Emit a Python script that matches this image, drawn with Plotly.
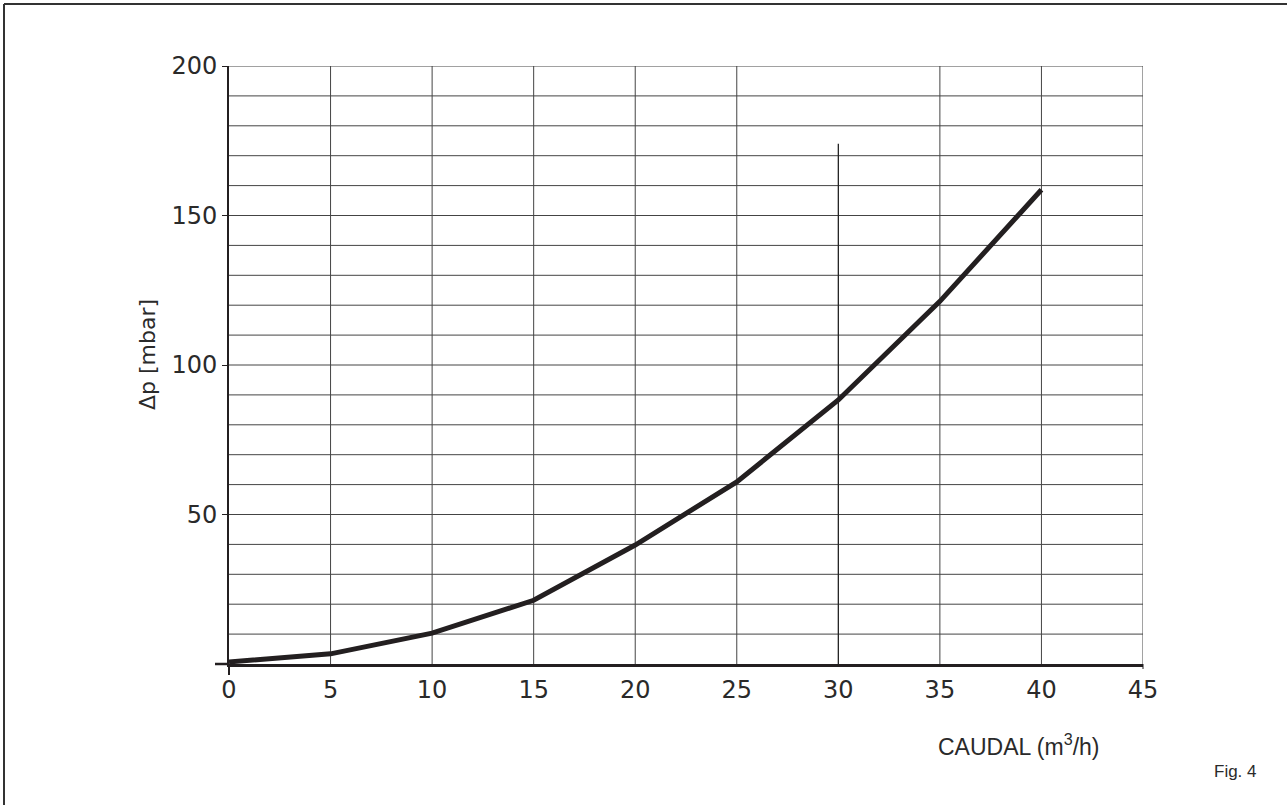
import plotly.graph_objects as go

# Data
caudal = [0, 5, 10, 15, 20, 25, 30, 35, 40]
delta_p = [0.7, 3.4, 10.3, 21.3, 39.8, 60.9, 88.3, 121.3, 158.6]

x_ticks = [0, 5, 10, 15, 20, 25, 30, 35, 40, 45]
y_ticks = [50, 100, 150, 200]
y_grid = [10, 20, 30, 40, 50, 60, 70, 80, 90, 100, 110, 120, 130, 140, 150, 160, 170, 180, 190, 200]
x_grid = [5, 10, 15, 20, 25, 30, 35, 40, 45]
x_grid_top = [200, 200, 200, 200, 200, 174, 200, 200, 200]

INK = "#231f20"
GRID = "#444444"
TICKFONT = dict(family="DejaVu Sans", size=24, color="#2a2a2a")

fig = go.Figure()

fig.add_trace(go.Scatter(
    x=caudal, y=delta_p, mode="lines",
    line=dict(color=INK, width=5),
    hoverinfo="x+y", showlegend=False,
))

shapes = []
# horizontal grid lines
for yv in y_grid:
    shapes.append(dict(type="line", xref="x", yref="y", x0=0, x1=45, y0=yv, y1=yv,
                       line=dict(color=GRID, width=1), layer="below"))
# vertical grid lines
for xv, top in zip(x_grid, x_grid_top):
    shapes.append(dict(type="line", xref="x", yref="y", x0=xv, x1=xv, y0=0, y1=top,
                       line=dict(color=GRID if xv != 30 else "#222", width=1 if xv != 30 else 1.3),
                       layer="below"))

W, H = 1287, 805
L, T = 229, 66
pw, ph = 914, 598
R, B = W - L - pw, H - T - ph


def px(x):
    return (x - L) / pw


def py(y):
    return (T + ph - y) / ph


# x-axis line extension to the left, y-axis extension downward
shapes.append(dict(type="line", xref="paper", yref="paper", x0=px(215), x1=px(229), y0=0, y1=0,
                   line=dict(color=INK, width=2.5)))
shapes.append(dict(type="line", xref="paper", yref="paper", x0=0, x1=0, y0=py(675), y1=0,
                   line=dict(color=INK, width=2)))
shapes.append(dict(type="line", xref="paper", yref="paper", x0=1, x1=1, y0=py(669), y1=0,
                   line=dict(color=INK, width=1)))
# outer frame (left and top edges)
shapes.append(dict(type="line", xref="paper", yref="paper", x0=px(4), x1=px(4), y0=py(4), y1=py(806),
                   line=dict(color="#333", width=2)))
shapes.append(dict(type="line", xref="paper", yref="paper", x0=px(4), x1=px(1288), y0=py(4), y1=py(4),
                   line=dict(color="#333", width=2)))

fig.update_layout(
    width=W, height=H,
    margin=dict(l=L, r=R, t=T, b=B),
    paper_bgcolor="white", plot_bgcolor="white",
    shapes=shapes,
    showlegend=False,
    xaxis=dict(
        range=[0, 45], tickvals=x_ticks, ticktext=[str(v) for v in x_ticks],
        showgrid=False, zeroline=False, showline=True, linecolor=INK, linewidth=2.5,
        ticks="", tickfont=TICKFONT, ticklabelstandoff=2,
    ),
    yaxis=dict(
        range=[0, 200], tickvals=y_ticks, ticktext=[str(v) for v in y_ticks],
        showgrid=False, zeroline=False, showline=True, linecolor=INK, linewidth=2,
        ticks="outside", ticklen=5, tickcolor=INK, tickwidth=1,
        tickfont=TICKFONT, ticklabelstandoff=0,
    ),
    annotations=[
        dict(text="\u0394p [mbar]", xref="paper", yref="paper", x=px(147), y=py(355),
             textangle=-90, showarrow=False, xanchor="center", yanchor="middle",
             font=dict(family="DejaVu Sans", size=22, color="#2a2a2a")),
        dict(text="CAUDAL (m<sup>3</sup>/h)", xref="paper", yref="paper", x=px(1018), y=py(745),
             showarrow=False, xanchor="center", yanchor="middle",
             font=dict(family="Liberation Sans", size=23, color="#2a2a2a")),
        dict(text="Fig. 4", xref="paper", yref="paper", x=px(1235), y=py(772),
             showarrow=False, xanchor="center", yanchor="middle",
             font=dict(family="Liberation Sans", size=17, color="#2a2a2a")),
    ],
)

fig.write_html(
    "out.html",
    config={"displayModeBar": False},
    post_script="document.body.style.margin='0';document.body.style.overflow='hidden';",
)
